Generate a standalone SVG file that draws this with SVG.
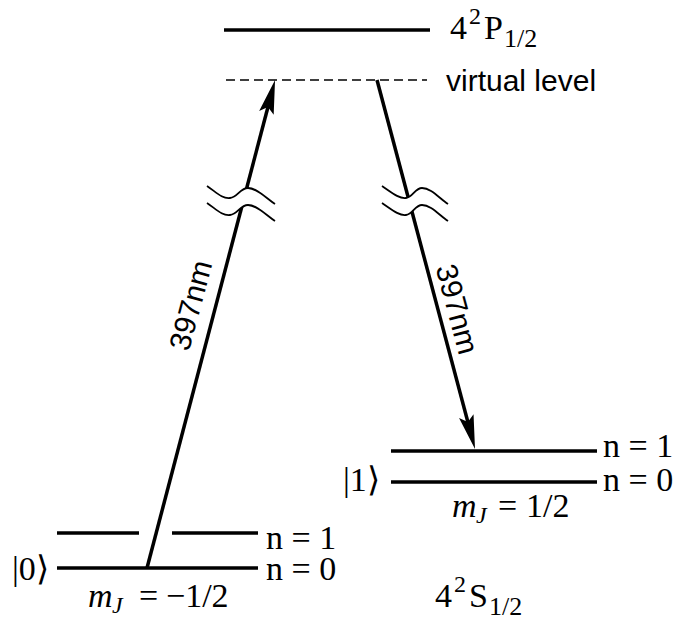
<svg xmlns="http://www.w3.org/2000/svg" width="679" height="623" viewBox="0 0 679 623">
<style>
.lvl{stroke:#000;stroke-width:3.5;fill:none}
.serif{font-family:"Liberation Serif","Times New Roman",serif;font-size:34px;fill:#000}
.sans{font-family:"Liberation Sans",Arial,sans-serif;font-size:30px;fill:#000}
.arr{stroke:#000;stroke-width:3.5;fill:none}
.wave{stroke:#000;stroke-width:1.8;fill:none}
.gap{fill:#fff;stroke:none}
</style>
<defs>
<marker id="ah" markerUnits="userSpaceOnUse" viewBox="-12 -10 42 20" markerWidth="42" markerHeight="20" refX="0" refY="0" orient="auto" overflow="visible">
<path d="M25,0 L-9,-7.5 L-3,0 L-9,7.5 Z" fill="#000"/>
</marker>
</defs>
<g id="level-P">
<line class="lvl" x1="224" y1="30" x2="430" y2="30" stroke-width="5"/>
<text class="serif" x="450" y="39">4<tspan font-size="24" dx="2" dy="-15">2</tspan><tspan dx="3" dy="15">P</tspan><tspan font-size="26" dx="1" dy="8">1/2</tspan></text>
</g>
<g id="level-virtual">
<line x1="226" y1="80" x2="427" y2="80" stroke="#000" stroke-width="1.6" stroke-dasharray="9,5"/>
<text class="sans" x="446" y="91">virtual level</text>
</g>
<g id="level-0">
<line class="lvl" x1="57" y1="533" x2="139" y2="533"/>
<line class="lvl" x1="172" y1="533" x2="258" y2="533"/>
<line class="lvl" x1="57" y1="568" x2="258" y2="568"/>
<text class="serif" x="266" y="549">n = 1</text>
<text class="serif" x="266" y="580">n = 0</text>
<text class="serif" x="12" y="580">|0⟩</text>
<text class="serif" y="607"><tspan x="88" font-style="italic">m</tspan><tspan x="112" font-style="italic" font-size="24" dy="6">J</tspan><tspan x="139" dy="-6">=</tspan><tspan x="166">−1/2</tspan></text>
</g>
<g id="level-1">
<line class="lvl" x1="391" y1="451" x2="597" y2="451"/>
<line class="lvl" x1="391" y1="482" x2="597" y2="482"/>
<text class="serif" x="603" y="457">n = 1</text>
<text class="serif" x="603" y="491">n = 0</text>
<text class="serif" x="343" y="491">|1⟩</text>
<text class="serif" y="517"><tspan x="452" font-style="italic">m</tspan><tspan x="476" font-style="italic" font-size="24" dy="6">J</tspan><tspan x="498" dy="-6">=</tspan><tspan x="526">1/2</tspan></text>
</g>
<g id="label-S">
<text class="serif" x="435" y="607">4<tspan font-size="24" dx="2" dy="-15">2</tspan><tspan dx="3" dy="15">S</tspan><tspan font-size="26" dx="1" dy="8">1/2</tspan></text>
</g>
<g id="connectors">
<line class="arr" x1="147" y1="568" x2="268.7" y2="104.2" marker-end="url(#ah)"/>
<line class="arr" x1="377" y1="80" x2="468.6" y2="424.8" marker-end="url(#ah)"/>
<path class="gap" d="M207,186 C216,192 222,199 230,198 C238,197 240,188 248,188 C257,188 266,198 275,204 L275,221 C266,215 257,205 248,205 C240,205 238,214 230,215 C222,216 216,209 207,203 Z"/>
<path class="wave" d="M207,186 C216,192 222,199 230,198 C238,197 240,188 248,188 C257,188 266,198 275,204"/>
<path class="wave" d="M207,203 C216,209 222,216 230,215 C238,214 240,205 248,205 C257,205 266,215 275,221"/>
<path class="gap" d="M382,186 C391,192 399,199 406,198 C413,197 415,188 422,188 C431,188 439,198 448,204 L448,221 C439,215 431,205 422,205 C415,205 413,214 406,215 C399,216 391,209 382,203 Z"/>
<path class="wave" d="M382,186 C391,192 399,199 406,198 C413,197 415,188 422,188 C431,188 439,198 448,204"/>
<path class="wave" d="M382,203 C391,209 399,216 406,215 C413,214 415,205 422,205 C431,205 439,215 448,221"/>
<text class="sans" text-anchor="middle" transform="translate(190,305) rotate(-75)" y="11">397nm</text>
<text class="sans" text-anchor="middle" transform="translate(458,309) rotate(75)" y="11">397nm</text>
</g>
</svg>
